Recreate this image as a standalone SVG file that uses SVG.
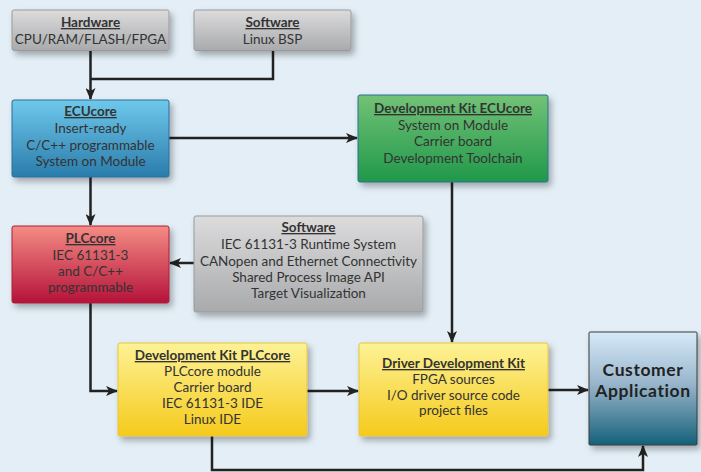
<svg xmlns="http://www.w3.org/2000/svg" width="701" height="472" viewBox="0 0 701 472">
<defs>
<linearGradient id="gGray" x1="0" y1="0" x2="0" y2="1"><stop offset="0" stop-color="#dcdcdd"/><stop offset="1" stop-color="#a9aaac"/></linearGradient>
<linearGradient id="gBlue" x1="0" y1="0" x2="0" y2="1"><stop offset="0" stop-color="#6fc8ec"/><stop offset="1" stop-color="#2a7cab"/></linearGradient>
<linearGradient id="gGreen" x1="0" y1="0" x2="0" y2="1"><stop offset="0" stop-color="#72c276"/><stop offset="1" stop-color="#20984a"/></linearGradient>
<linearGradient id="gRed" x1="0" y1="0" x2="0" y2="1"><stop offset="0" stop-color="#f48c84"/><stop offset="1" stop-color="#b5123a"/></linearGradient>
<linearGradient id="gYellow" x1="0" y1="0" x2="0" y2="1"><stop offset="0" stop-color="#fdf295"/><stop offset="1" stop-color="#f5ca1c"/></linearGradient>
<linearGradient id="gCust" x1="0" y1="0" x2="0" y2="1"><stop offset="0" stop-color="#d6eaf9"/><stop offset="0.45" stop-color="#9ab6cc"/><stop offset="1" stop-color="#14617a"/></linearGradient>
<filter id="sh" x="-10%" y="-10%" width="125%" height="135%"><feDropShadow dx="3" dy="4" stdDeviation="3" flood-color="#000" flood-opacity="0.3"/></filter>
<marker id="arr" markerUnits="userSpaceOnUse" markerWidth="12" markerHeight="10" refX="11" refY="5" orient="auto"><path d="M0,0 L12,5 L0,10 L3,5 Z" fill="#222"/></marker>
</defs>
<style>
.box{filter:url(#sh);stroke-width:1}
.t{font-family:Lato,"Open Sans","Liberation Sans",sans-serif;font-size:13.5px;fill:#333;text-anchor:middle}
.h{font-weight:bold;text-decoration:underline}
.c{stroke:#222;stroke-width:2.5;fill:none}
.a{marker-end:url(#arr)}
.big{font-size:17.5px;font-weight:bold;fill:#222;letter-spacing:0.6px}
</style>
<rect width="701" height="472" fill="#e3eef6"/>
<g id="connectors">
<path class="c a" d="M90.5 51 V99"/>
<path class="c" d="M273 51 V79 H90.5"/>
<path class="c a" d="M169 138 H357"/>
<path class="c a" d="M90.5 177 V225"/>
<path class="c a" d="M194 263 H170"/>
<path class="c a" d="M90.5 303 V391 H117"/>
<path class="c a" d="M452 182 V342"/>
<path class="c a" d="M307 391 H358"/>
<path class="c a" d="M548 390 H588"/>
<path class="c a" d="M212 436 V470 H643 V446"/>
</g>
<g id="hardware">
<rect class="box" x="12" y="10" width="157" height="40.5" rx="2" fill="url(#gGray)" stroke="#9a9a9c"/>
<text class="t" x="90.5" y="27"><tspan class="h">Hardware</tspan><tspan x="90.5" y="43.5">CPU/RAM/FLASH/FPGA</tspan></text>
</g>
<g id="software-bsp">
<rect class="box" x="194" y="10" width="157" height="40.5" rx="2" fill="url(#gGray)" stroke="#9a9a9c"/>
<text class="t" x="272.5" y="27"><tspan class="h">Software</tspan><tspan x="272.5" y="43.5">Linux BSP</tspan></text>
</g>
<g id="ecucore">
<rect class="box" x="12" y="100" width="157" height="77" rx="2" fill="url(#gBlue)" stroke="#2a6e98"/>
<text class="t" x="90.5" y="116"><tspan class="h">ECUcore</tspan><tspan x="90.5" y="133">Insert-ready</tspan><tspan x="90.5" y="149.5">C/C++ programmable</tspan><tspan x="90.5" y="166">System on Module</tspan></text>
</g>
<g id="devkit-ecucore">
<rect class="box" x="358" y="95" width="190" height="87" rx="2" fill="url(#gGreen)" stroke="#2a6e98"/>
<text class="t" x="453" y="113"><tspan class="h">Development Kit ECUcore</tspan><tspan x="453" y="129.5">System on Module</tspan><tspan x="453" y="146">Carrier board</tspan><tspan x="453" y="162.5">Development Toolchain</tspan></text>
</g>
<g id="plccore">
<rect class="box" x="12" y="226" width="157" height="77" rx="2" fill="url(#gRed)" stroke="#a8203a"/>
<text class="t" x="90.5" y="243"><tspan class="h">PLCcore</tspan><tspan x="90.5" y="259.5">IEC 61131-3</tspan><tspan x="90.5" y="276">and C/C++</tspan><tspan x="90.5" y="292">programmable</tspan></text>
</g>
<g id="software-plc">
<rect class="box" x="194" y="216" width="229" height="96" rx="2" fill="url(#gGray)" stroke="#9a9a9c"/>
<text class="t" x="308.5" y="232"><tspan class="h">Software</tspan><tspan x="308.5" y="249">IEC 61131-3 Runtime System</tspan><tspan x="308.5" y="265.5">CANopen and Ethernet Connectivity</tspan><tspan x="308.5" y="281.5">Shared Process Image API</tspan><tspan x="308.5" y="297.5">Target Visualization</tspan></text>
</g>
<g id="devkit-plccore">
<rect class="box" x="118" y="343" width="189" height="93" rx="2" fill="url(#gYellow)" stroke="#e8c440"/>
<text class="t" x="212.5" y="360"><tspan class="h">Development Kit PLCcore</tspan><tspan x="212.5" y="376">PLCcore module</tspan><tspan x="212.5" y="392">Carrier board</tspan><tspan x="212.5" y="408">IEC 61131-3 IDE</tspan><tspan x="212.5" y="424">Linux IDE</tspan></text>
</g>
<g id="driver-devkit">
<rect class="box" x="359" y="343" width="189" height="93" rx="2" fill="url(#gYellow)" stroke="#e8c440"/>
<text class="t" x="453.5" y="368"><tspan class="h">Driver Development Kit</tspan><tspan x="453.5" y="384">FPGA sources</tspan><tspan x="453.5" y="400">I/O driver source code</tspan><tspan x="453.5" y="414.5">project files</tspan></text>
</g>
<g id="customer-application">
<rect class="box" x="589" y="332" width="108" height="113" rx="1" fill="url(#gCust)" stroke="#3a3a3a"/>
<text class="t big" x="643" y="376"><tspan>Customer</tspan><tspan x="643" y="397">Application</tspan></text>
</g>
</svg>
